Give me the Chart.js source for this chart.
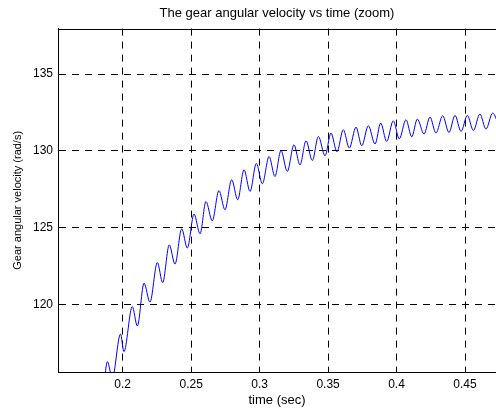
<!DOCTYPE html>
<html>
<head>
<meta charset="utf-8">
<script src="https://cdn.jsdelivr.net/npm/chart.js"></script>
<style>
  html, body { margin: 0; padding: 0; background: #fff; }
  #wrap { width: 496px; height: 408px; }
</style>
</head>
<body>
<div id="wrap"><canvas id="chart"></canvas></div>
<script>
// peaks / troughs of the oscillating speed
const timeSec = [0.1863, 0.1888, 0.1924, 0.1984, 0.2009, 0.2070, 0.2107, 0.2156, 0.2199, 0.2253,
  0.2292, 0.2340, 0.2382, 0.2431, 0.2472, 0.2521, 0.2565, 0.2608, 0.2654, 0.2703,
  0.2747, 0.2796, 0.2840, 0.2886, 0.2930, 0.2976, 0.3020, 0.3069, 0.3112, 0.3156,
  0.3202, 0.3251, 0.3295, 0.3339, 0.3385, 0.3429, 0.3478, 0.3521, 0.3565, 0.3611,
  0.3655, 0.3704, 0.3746, 0.3794, 0.3843, 0.3884, 0.3928, 0.3976, 0.4020, 0.4069,
  0.4111, 0.4152, 0.4201, 0.4244, 0.4288, 0.4337, 0.4383, 0.4427, 0.4471, 0.4517,
  0.4561, 0.4609, 0.4653, 0.4702, 0.4748]
const gearVel = [114.8, 116.31, 115.25, 118.11, 116.96, 119.89, 118.63, 121.41, 120.18, 122.75,
  121.45, 123.90, 122.65, 124.94, 123.69, 125.90, 124.62, 126.72, 125.46, 127.43,
  126.18, 128.13, 126.83, 128.78, 127.37, 129.19, 127.87, 129.64, 128.34, 130.03,
  128.67, 130.40, 129.10, 130.66, 129.38, 130.94, 129.69, 131.16, 129.95, 131.38,
  130.19, 131.55, 130.34, 131.64, 130.45, 131.81, 130.62, 131.96, 130.79, 132.03,
  130.92, 132.07, 131.10, 132.20, 131.16, 132.29, 131.20, 132.31, 131.27, 132.31,
  131.33, 132.40, 131.42, 132.46, 131.64]

const xTicks = [0.2, 0.25, 0.3, 0.35, 0.4, 0.45]
const yTicks = [120, 125, 130, 135]

const FONT = "'Liberation Sans', Arial, Helvetica, sans-serif"

// matlab style box: top edge of the axes
const boxTop = {
  id: 'boxTop',
  afterDraw(chart) {
    const { ctx, chartArea } = chart
    ctx.save()
    ctx.strokeStyle = '#000'
    ctx.lineWidth = 1
    ctx.beginPath()
    ctx.moveTo(chartArea.left, Math.round(chartArea.top) + 0.5)
    ctx.lineTo(chartArea.right, Math.round(chartArea.top) + 0.5)
    ctx.stroke()
    ctx.restore()
  }
}

new Chart(document.getElementById('chart'), {
  type: 'line',
  data: {
    datasets: [{
      data: timeSec.map((t, i) => ({ x: t, y: gearVel[i] })),
      borderColor: '#0000ff',
      borderWidth: 1,
      pointRadius: 0,
      cubicInterpolationMode: 'monotone',
      fill: false
    }]
  },
  options: {
    responsive: true,
    maintainAspectRatio: false,
    animation: false,
    layout: { padding: 0 },
    plugins: {
      legend: { display: false },
      tooltip: { enabled: false },
      title: {
        display: true,
        fullSize: false,
        text: 'The gear angular velocity vs time (zoom)',
        color: '#000',
        font: { family: FONT, size: 13, weight: 'normal' },
        padding: { top: 6, bottom: 7 }
      }
    },
    scales: {
      x: {
        type: 'linear',
        min: 0.15275,
        max: 0.47264,
        afterBuildTicks: s => { s.ticks = xTicks.map(v => ({ value: v })) },
        afterFit: s => { s.height = 36 },
        ticks: {
          color: '#000',
          font: { family: FONT, size: 12 },
          padding: 5,
          maxRotation: 0,
          autoSkip: false,
          callback: v => String(v)
        },
        grid: { color: '#000', lineWidth: 1, drawTicks: false },
        border: { display: true, color: '#000', width: 1, dash: [7, 6] },
        title: {
          display: true,
          text: 'time (sec)',
          color: '#000',
          font: { family: FONT, size: 13 },
          padding: { top: 0, bottom: 0 }
        }
      },
      y: {
        min: 115.64,
        max: 137.95,
        afterBuildTicks: s => { s.ticks = yTicks.map(v => ({ value: v })) },
        afterFit: s => { s.width = 58 },
        ticks: {
          color: '#000',
          font: { family: FONT, size: 12 },
          padding: 5,
          callback: v => String(v)
        },
        grid: { color: '#000', lineWidth: 1, drawTicks: false },
        border: { display: true, color: '#000', width: 1, dash: [7, 6] },
        title: {
          display: true,
          text: 'Gear angular velocity (rad/s)',
          color: '#000',
          font: { family: FONT, size: 11 },
          padding: { top: 11, bottom: 0 }
        }
      }
    }
  },
  plugins: [boxTop]
})
</script>
</body>
</html>
